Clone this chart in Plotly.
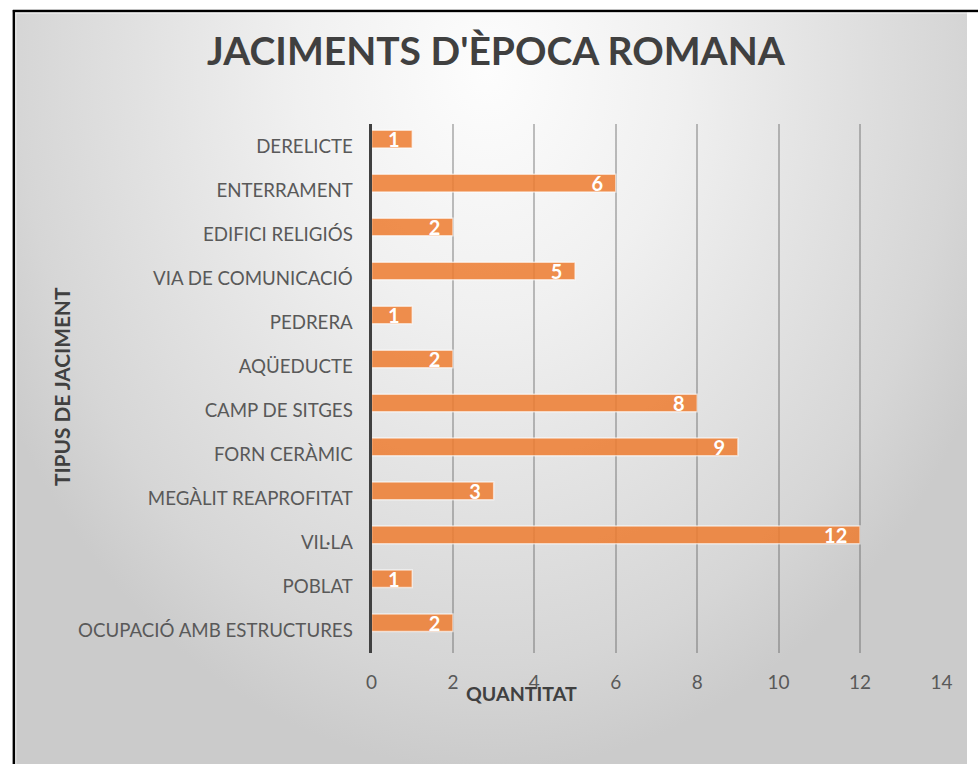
import plotly.graph_objects as go

# Site types (bottom to top) and number of sites of each type
categories = [
    "OCUPACIÓ AMB ESTRUCTURES",
    "POBLAT",
    "VIL·LA",
    "MEGÀLIT REAPROFITAT",
    "FORN CERÀMIC",
    "CAMP DE SITGES",
    "AQÜEDUCTE",
    "PEDRERA",
    "VIA DE COMUNICACIÓ",
    "EDIFICI RELIGIÓS",
    "ENTERRAMENT",
    "DERELICTE",
]
quantities = [2, 1, 12, 3, 9, 8, 2, 1, 5, 2, 6, 1]
x_ticks = [0, 2, 4, 6, 8, 10, 12, 14]

title_text = "JACIMENTS D'ÈPOCA ROMANA"
x_title = "QUANTITAT"
y_title = "TIPUS DE JACIMENT"

W, H = 978, 764
FONT = "Lato, Liberation Sans, sans-serif"
NBSP = "\u00a0"


def px_x(p):
    return p / W


def px_y(p):
    return 1 - p / H


fig = go.Figure()

# Soft radial backdrop of the chart area (pixel-space axes x/y)
fig.add_trace(go.Scatter(
    x=[-70, 1050, 1050, -70, -70],
    y=[-630, -630, 770, 770, -630],
    mode="lines",
    line=dict(width=0),
    fill="toself",
    fillgradient=dict(
        type="radial",
        colorscale=[
            [0.0, "#fdfdfd"],
            [0.35, "#f0f0f0"],
            [0.6, "#e3e3e3"],
            [0.85, "#d6d6d6"],
            [1.0, "#cbcbcb"],
        ],
    ),
    hoverinfo="skip",
    showlegend=False,
    xaxis="x",
    yaxis="y",
))

# Horizontal bars, value labels sitting inside the bar end
fig.add_trace(go.Bar(
    orientation="h",
    y=categories,
    x=quantities,
    text=[f"{v}{NBSP * 2}" for v in quantities],
    textposition="inside",
    insidetextanchor="end",
    textangle=0,
    constraintext="none",
    textfont=dict(family=FONT, size=20, color="white", weight="bold"),
    marker=dict(
        color="rgba(237,125,49,0.86)",
        line=dict(color="rgba(255,255,255,0.6)", width=1.5),
    ),
    width=0.40,
    offset=-0.025,
    cliponaxis=False,
    showlegend=False,
    xaxis="x2",
    yaxis="y2",
))

plot_left, plot_right = 372, 952
plot_top, plot_bottom = 124, 653

fig.update_layout(
    width=W,
    height=H,
    autosize=False,
    margin=dict(l=0, r=0, t=0, b=0),
    paper_bgcolor="white",
    plot_bgcolor="rgba(0,0,0,0)",
    font=dict(family=FONT, color="#595959"),
    xaxis=dict(
        domain=[8 / W, 1], range=[8, W], visible=False, fixedrange=True,
    ),
    yaxis=dict(
        domain=[0, 1 - 11 / H], range=[H, 11], visible=False, fixedrange=True,
    ),
    xaxis2=dict(
        domain=[px_x(plot_left), px_x(plot_right)],
        anchor="y2",
        range=[0, 14],
        tickvals=x_ticks,
        ticktext=[str(v) for v in x_ticks],
        showgrid=True,
        gridcolor="rgba(90,90,90,0.38)",
        gridwidth=2,
        zeroline=False,
        showline=False,
        ticks="",
        ticklabelstandoff=16,
        tickfont=dict(family=FONT, size=19, color="#595959"),
        fixedrange=True,
    ),
    yaxis2=dict(
        domain=[px_y(plot_bottom), px_y(plot_top)],
        anchor="x2",
        type="category",
        categoryorder="array",
        categoryarray=categories,
        range=[-0.512, 11.519],
        showgrid=False,
        zeroline=False,
        showline=True,
        linecolor="#404040",
        linewidth=3,
        ticks="",
        ticklabelstandoff=12,
        tickfont=dict(family=FONT, size=18.7, color="#595959"),
        fixedrange=True,
    ),
    annotations=[
        dict(
            text=title_text, xref="paper", yref="paper",
            x=px_x(499), y=px_y(50), xanchor="center", yanchor="middle",
            showarrow=False,
            font=dict(family=FONT, size=39, color="#404040", weight="bold"),
        ),
        dict(
            text=x_title, xref="paper", yref="paper",
            x=px_x(525), y=px_y(693), xanchor="center", yanchor="middle",
            showarrow=False,
            font=dict(family=FONT, size=19.6, color="#404040", weight="bold"),
        ),
        dict(
            text=y_title, xref="paper", yref="paper",
            x=px_x(56), y=px_y(387), xanchor="center", yanchor="middle",
            textangle=-90, showarrow=False,
            font=dict(family=FONT, size=20.8, color="#404040", weight="bold"),
        ),
    ],
    shapes=[
        # frame: top and left edges, with a faint inner highlight
        dict(type="line", xref="paper", yref="paper",
             x0=px_x(7), x1=1.05, y0=px_y(11), y1=px_y(11),
             line=dict(color="black", width=2.5), layer="above"),
        dict(type="line", xref="paper", yref="paper",
             x0=px_x(8), x1=px_x(8), y0=px_y(10), y1=-0.05,
             line=dict(color="black", width=2.5), layer="above"),
        dict(type="line", xref="paper", yref="paper",
             x0=px_x(9.5), x1=1.05, y0=px_y(13), y1=px_y(13),
             line=dict(color="rgba(255,255,255,0.7)", width=1), layer="above"),
        dict(type="line", xref="paper", yref="paper",
             x0=px_x(10), x1=px_x(10), y0=px_y(12.5), y1=-0.05,
             line=dict(color="rgba(255,255,255,0.7)", width=1), layer="above"),
    ],
)

fig.write_html("out.html")
